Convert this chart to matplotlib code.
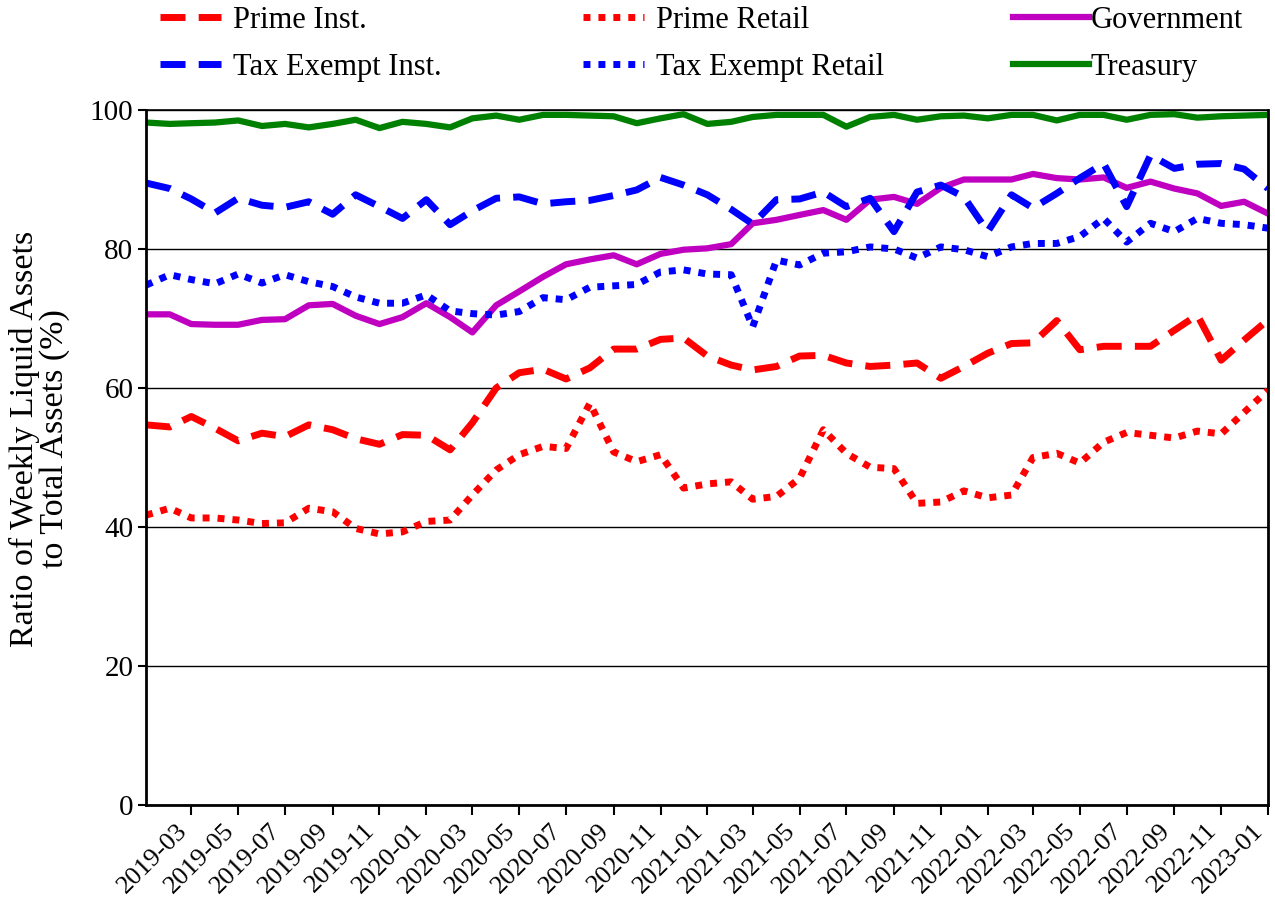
import matplotlib
matplotlib.use("Agg")
import matplotlib.pyplot as plt
import matplotlib.dates as mdates
import pandas as pd

plt.rcParams['font.family'] = ['Liberation Serif', 'DejaVu Serif']

# monthly observations, 2019-01 .. 2023-01
months = pd.date_range('2019-01-01', periods=49, freq='MS')

prime_inst = [54.7, 54.4, 55.9, 54.2, 52.4, 53.5, 53.0, 54.7, 54.0, 52.7, 51.9, 53.3, 53.2, 51.1, 55.0,
              60.0, 62.2, 62.7, 61.3, 62.9, 65.6, 65.6, 67.0, 67.2, 64.6, 63.3, 62.6, 63.1, 64.6, 64.7,
              63.6, 63.1, 63.3, 63.6, 61.4, 63.1, 65.0, 66.4, 66.5, 69.7, 65.5, 66.0, 66.0, 66.0, 68.3,
              70.5, 64.0, 66.9, 69.8]
prime_retail = [41.7, 42.7, 41.3, 41.3, 41.0, 40.5, 40.6, 42.7, 42.2, 39.8, 39.0, 39.3, 40.8, 41.0, 44.6,
                48.2, 50.4, 51.6, 51.3, 57.8, 50.8, 49.4, 50.4, 45.6, 46.2, 46.5, 44.0, 44.4, 47.0, 54.0,
                50.6, 48.6, 48.4, 43.4, 43.6, 45.2, 44.2, 44.6, 50.0, 50.6, 49.2, 52.2, 53.6, 53.2, 52.8,
                53.8, 53.4, 56.5, 59.7]
government = [70.6, 70.6, 69.2, 69.1, 69.1, 69.8, 69.9, 71.9, 72.1, 70.4, 69.2, 70.2, 72.2, 70.2, 68.0,
              71.9, 73.9, 76.0, 77.8, 78.5, 79.1, 77.8, 79.3, 79.9, 80.1, 80.7, 83.7, 84.2, 84.9, 85.6,
              84.2, 87.1, 87.5, 86.5, 88.8, 90.0, 90.0, 90.0, 90.8, 90.2, 90.0, 90.3, 88.8, 89.7, 88.7,
              88.0, 86.2, 86.8, 85.1]
tax_exempt_inst = [89.5, 88.7, 87.2, 85.2, 87.3, 86.3, 86.0, 86.8, 85.0, 87.8, 86.1, 84.4, 87.1, 83.5, 85.5,
                   87.3, 87.5, 86.5, 86.8, 87.0, 87.7, 88.5, 90.3, 89.2, 87.8, 85.7, 83.6, 87.1, 87.2, 88.2,
                   86.1, 87.3, 82.5, 88.2, 89.2, 87.5, 82.5, 87.8, 85.9, 88.0, 90.2, 92.3, 86.1, 93.5, 91.6,
                   92.2, 92.3, 91.5, 88.7]
tax_exempt_retail = [74.8, 76.3, 75.6, 75.0, 76.4, 75.1, 76.3, 75.3, 74.6, 73.1, 72.2, 72.2, 73.4, 71.1, 70.7,
                     70.5, 71.0, 73.0, 72.7, 74.5, 74.7, 74.9, 76.7, 77.0, 76.4, 76.3, 68.8, 78.4, 77.7, 79.4,
                     79.6, 80.3, 80.0, 78.7, 80.3, 79.9, 78.9, 80.3, 80.8, 80.8, 81.8, 84.4, 81.0, 83.7, 82.5,
                     84.4, 83.7, 83.5, 83.0]
treasury = [98.2, 98.0, 98.1, 98.2, 98.5, 97.7, 98.0, 97.5, 98.0, 98.6, 97.4, 98.3, 98.0, 97.5, 98.8,
            99.2, 98.6, 99.3, 99.3, 99.2, 99.1, 98.1, 98.8, 99.4, 98.0, 98.3, 99.0, 99.3, 99.3, 99.3,
            97.6, 99.0, 99.3, 98.6, 99.1, 99.2, 98.8, 99.3, 99.3, 98.5, 99.3, 99.3, 98.6, 99.3, 99.4,
            98.9, 99.1, 99.2, 99.3]

FS = 22
dash = (3.6, 1.9)
dot = (1.0, 1.15)

fig = plt.figure(figsize=(12.75, 9.13), dpi=100)
ax = fig.add_axes([0.1145, 0.1183, 0.88, 0.7612])

l_pi, = ax.plot(months, prime_inst, color='#FF0000', lw=5, dashes=dash, label='Prime Inst.')
l_pr, = ax.plot(months, prime_retail, color='#FF0000', lw=5, dashes=dot, label='Prime Retail')
l_go, = ax.plot(months, government, color='#C000C0', lw=4.5, label='Government')
l_ti, = ax.plot(months, tax_exempt_inst, color='#0000FF', lw=5, dashes=dash, label='Tax Exempt Inst.')
l_tr, = ax.plot(months, tax_exempt_retail, color='#0000FF', lw=5, dashes=dot, label='Tax Exempt Retail')
l_tt, = ax.plot(months, treasury, color='#008000', lw=4.5, label='Treasury')

ax.set_xlim(months[0], months[-1])
ax.set_ylim(0, 100)
ax.set_yticks([0, 20, 40, 60, 80, 100])
ax.set_xticks(months[2::2])
ax.xaxis.set_major_formatter(mdates.DateFormatter('%Y-%m'))
ax.tick_params(axis='x', labelsize=FS - 3, rotation=45, length=7, width=1.5, direction='out')
ax.tick_params(axis='y', labelsize=FS - 1, length=6, width=1.5, direction='out', pad=3)
for lab in ax.get_xticklabels():
    lab.set_ha('right')

ax.yaxis.grid(True, color='black', lw=1.0)
ax.set_axisbelow(True)
for s in ['left', 'bottom', 'right']:
    ax.spines[s].set_linewidth(2.0)
ax.spines['top'].set_linewidth(1.2)

ax.set_ylabel('Ratio of Weekly Liquid Assets\nto Total Assets (%)', fontsize=FS + 2.5, linespacing=0.95)
ax.yaxis.set_label_coords(-0.068, 0.527)

leg_kw = dict(loc='center left', frameon=False, fontsize=FS, borderpad=0, borderaxespad=0,
              labelspacing=0.6)
leg1 = ax.legend(handles=[l_pi, l_ti], bbox_to_anchor=(0.0125, 1.095), handlelength=2.0,
                 handletextpad=0.4, **leg_kw)
ax.add_artist(leg1)
leg2 = ax.legend(handles=[l_pr, l_tr], bbox_to_anchor=(0.3895, 1.095), handlelength=2.0,
                 handletextpad=0.4, **leg_kw)
ax.add_artist(leg2)
ax.legend(handles=[l_go, l_tt], bbox_to_anchor=(0.7727, 1.095), handlelength=2.5,
          handletextpad=0.05, **leg_kw)

fig.savefig('out.png', dpi=100)
